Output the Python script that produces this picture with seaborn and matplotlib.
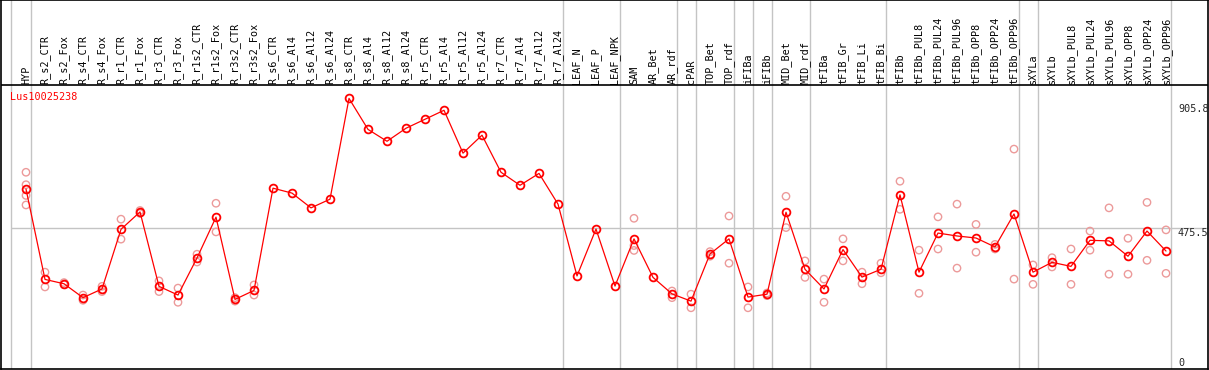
import numpy as np
import pandas as pd
import matplotlib
matplotlib.use('Agg')  # no display
import matplotlib.pyplot as plt
import seaborn as sns

# Sample names (x axis) and mean expression per sample
categories = [
    "HYP", "R_s2_CTR", "R_s2_Fox", "R_s4_CTR", "R_s4_Fox", "R_r1_CTR", "R_r1_Fox",
    "R_r3_CTR", "R_r3_Fox", "R_r1s2_CTR", "R_r1s2_Fox", "R_r3s2_CTR", "R_r3s2_Fox",
    "R_s6_CTR", "R_s6_Al4", "R_s6_Al12", "R_s6_Al24", "R_s8_CTR", "R_s8_Al4",
    "R_s8_Al12", "R_s8_Al24", "R_r5_CTR", "R_r5_Al4", "R_r5_Al12", "R_r5_Al24",
    "R_r7_CTR", "R_r7_Al4", "R_r7_Al12", "R_r7_Al24", "LEAF_N", "LEAF_P", "LEAF_NPK",
    "SAM", "AR_Bet", "AR_rdf", "cPAR", "TOP_Bet", "TOP_rdf", "iFIBa", "iFIBb",
    "MID_Bet", "MID_rdf", "tFIBa", "tFIB_Gr", "tFIB_Li", "tFIB_Bi", "tFIBb",
    "tFIBb_PUL8", "tFIBb_PUL24", "tFIBb_PUL96", "tFIBb_OPP8", "tFIBb_OPP24",
    "tFIBb_OPP96", "sXYLa", "sXYLb", "sXYLb_PUL8", "sXYLb_PUL24", "sXYLb_PUL96",
    "sXYLb_OPP8", "sXYLb_OPP24", "sXYLb_OPP96",
]
mean_vals = [
    611, 299, 284, 236, 266, 472, 532, 275, 245, 373, 514, 230, 261,
    614, 597, 546, 576, 924, 817, 776, 821, 852, 883, 735, 797,
    669, 624, 665, 559, 311, 473, 276,
    439, 306, 249, 224, 387, 439, 238, 248,
    531, 334, 266, 402, 307, 334, 591,
    324, 459, 449, 442, 411, 525,
    324, 358, 344, 434, 432, 379, 466, 397,
]

# Individual replicates (sample name, value)
rep_cats = [
    "HYP", "HYP", "HYP", "HYP", "R_s2_CTR", "R_s2_CTR", "R_s2_Fox", "R_s2_Fox",
    "R_s4_CTR", "R_s4_CTR", "R_s4_Fox", "R_s4_Fox", "R_r1_CTR", "R_r1_CTR",
    "R_r1_Fox", "R_r1_Fox", "R_r3_CTR", "R_r3_CTR", "R_r3_Fox", "R_r3_Fox",
    "R_r1s2_CTR", "R_r1s2_CTR", "R_r1s2_Fox", "R_r1s2_Fox", "R_r3s2_CTR", "R_r3s2_CTR",
    "R_r3s2_Fox", "R_r3s2_Fox", "SAM", "SAM", "SAM", "AR_rdf", "AR_rdf",
    "cPAR", "cPAR", "TOP_Bet", "TOP_Bet", "TOP_rdf", "TOP_rdf", "iFIBa", "iFIBa",
    "iFIBb", "iFIBb", "MID_Bet", "MID_Bet", "MID_rdf", "MID_rdf", "tFIBa", "tFIBa",
    "tFIB_Gr", "tFIB_Gr", "tFIB_Li", "tFIB_Li", "tFIB_Bi", "tFIB_Bi", "tFIBb", "tFIBb",
    "tFIBb_PUL8", "tFIBb_PUL8", "tFIBb_PUL24", "tFIBb_PUL24", "tFIBb_PUL96", "tFIBb_PUL96",
    "tFIBb_OPP8", "tFIBb_OPP8", "tFIBb_OPP24", "tFIBb_OPP24", "tFIBb_OPP96", "tFIBb_OPP96",
    "sXYLa", "sXYLa", "sXYLb", "sXYLb", "sXYLb_PUL8", "sXYLb_PUL8",
    "sXYLb_PUL24", "sXYLb_PUL24", "sXYLb_PUL96", "sXYLb_PUL96",
    "sXYLb_OPP8", "sXYLb_OPP8", "sXYLb_OPP24", "sXYLb_OPP24", "sXYLb_OPP96", "sXYLb_OPP96",
]
rep_vals = [
    669, 626, 589, 556, 324, 273, 288, 281,
    245, 227, 275, 257, 507, 438,
    537, 527, 294, 257, 269, 220,
    386, 359, 562, 463, 236, 224,
    280, 245, 510, 416, 399, 259, 236,
    248, 201, 395, 379, 518, 355, 273, 201,
    252, 243, 586, 478, 363, 306, 300, 220,
    439, 363, 324, 284, 355, 322, 638, 541,
    400, 251, 515, 404, 559, 338,
    489, 393, 420, 404, 749, 300,
    349, 282, 374, 342, 404, 282,
    466, 400, 546, 317,
    441, 317, 565, 365, 470, 320,
]

# last sample of each tissue group (grey separators)
group_ends = [0, 28, 31, 34, 35, 37, 38, 39, 41, 45, 52, 53, 60]
y_ticks = [905.8, 475.5, 0]
gene_id = "Lus10025238"

W, H = 1209, 370
ZERO_Y, PX_PER_UNIT = 366.0, 0.2896   # pixel row of 0 and scale
X0, DX = 26.0, 19.0                   # pixel column of first sample and spacing


def yval(py):
    return (ZERO_Y - py) / PX_PER_UNIT


def xval(px):
    return (px - X0) / DX


sns.set_style("white")
mono = "DejaVu Sans Mono"

fig = plt.figure(figsize=(W / 100, H / 100), dpi=100)
ax = fig.add_axes([1 / W, 1 / H, (W - 2) / W, (H - 1) / H])
ax.set_xlim(xval(1), xval(W - 1))
ax.set_ylim(yval(369), yval(0))
ax.set_xticks([])
ax.set_yticks([])
for s in ax.spines.values():
    s.set_color("black")
    s.set_linewidth(1.2)

pos = {c: i for i, c in enumerate(categories)}
means = pd.DataFrame({"pos": np.arange(len(categories)), "value": mean_vals})
reps = pd.DataFrame({"pos": [pos[c] for c in rep_cats], "value": rep_vals})

# grey separators and reference line
grey = "#c4c4c4"
ax.axvline(-0.8, color=grey, lw=1, zorder=1)
for g in group_ends:
    ax.axvline(g + 0.25, color=grey, lw=1, zorder=1)
ax.hlines(y_ticks[1], -0.8, xval(W), color=grey, lw=1, zorder=1)

# label band separator
ax.axhline(yval(85), color="black", lw=1.2, zorder=4)

sns.scatterplot(data=reps, x="pos", y="value", marker="o", s=28,
                facecolors="none", edgecolors="#ec9a9a", linewidth=1.0,
                legend=False, ax=ax, zorder=2)
sns.lineplot(data=means, x="pos", y="value", color="red", lw=0.9,
             marker="o", markersize=5.6, markerfacecolor="none",
             markeredgecolor="red", markeredgewidth=1.3, ax=ax, zorder=3)
ax.set_xlabel("")
ax.set_ylabel("")

for i, c in enumerate(categories):
    ax.text(i, yval(83.5), c, rotation=90, ha="center", va="bottom",
            fontsize=7.3, family=mono, color="black")

ax.text(xval(10), yval(91.5), gene_id, color="red", ha="left", va="top",
        fontsize=7.3, family=mono)

for v in y_ticks[:2]:
    ax.text(xval(1178), v, f"{v:.1f}", ha="left", va="top", fontsize=7.3, family=mono)
ax.text(xval(1178), y_ticks[2], "0", ha="left", va="baseline", fontsize=7.3, family=mono)

fig.savefig("out.png", dpi=100)
plt.close(fig)
